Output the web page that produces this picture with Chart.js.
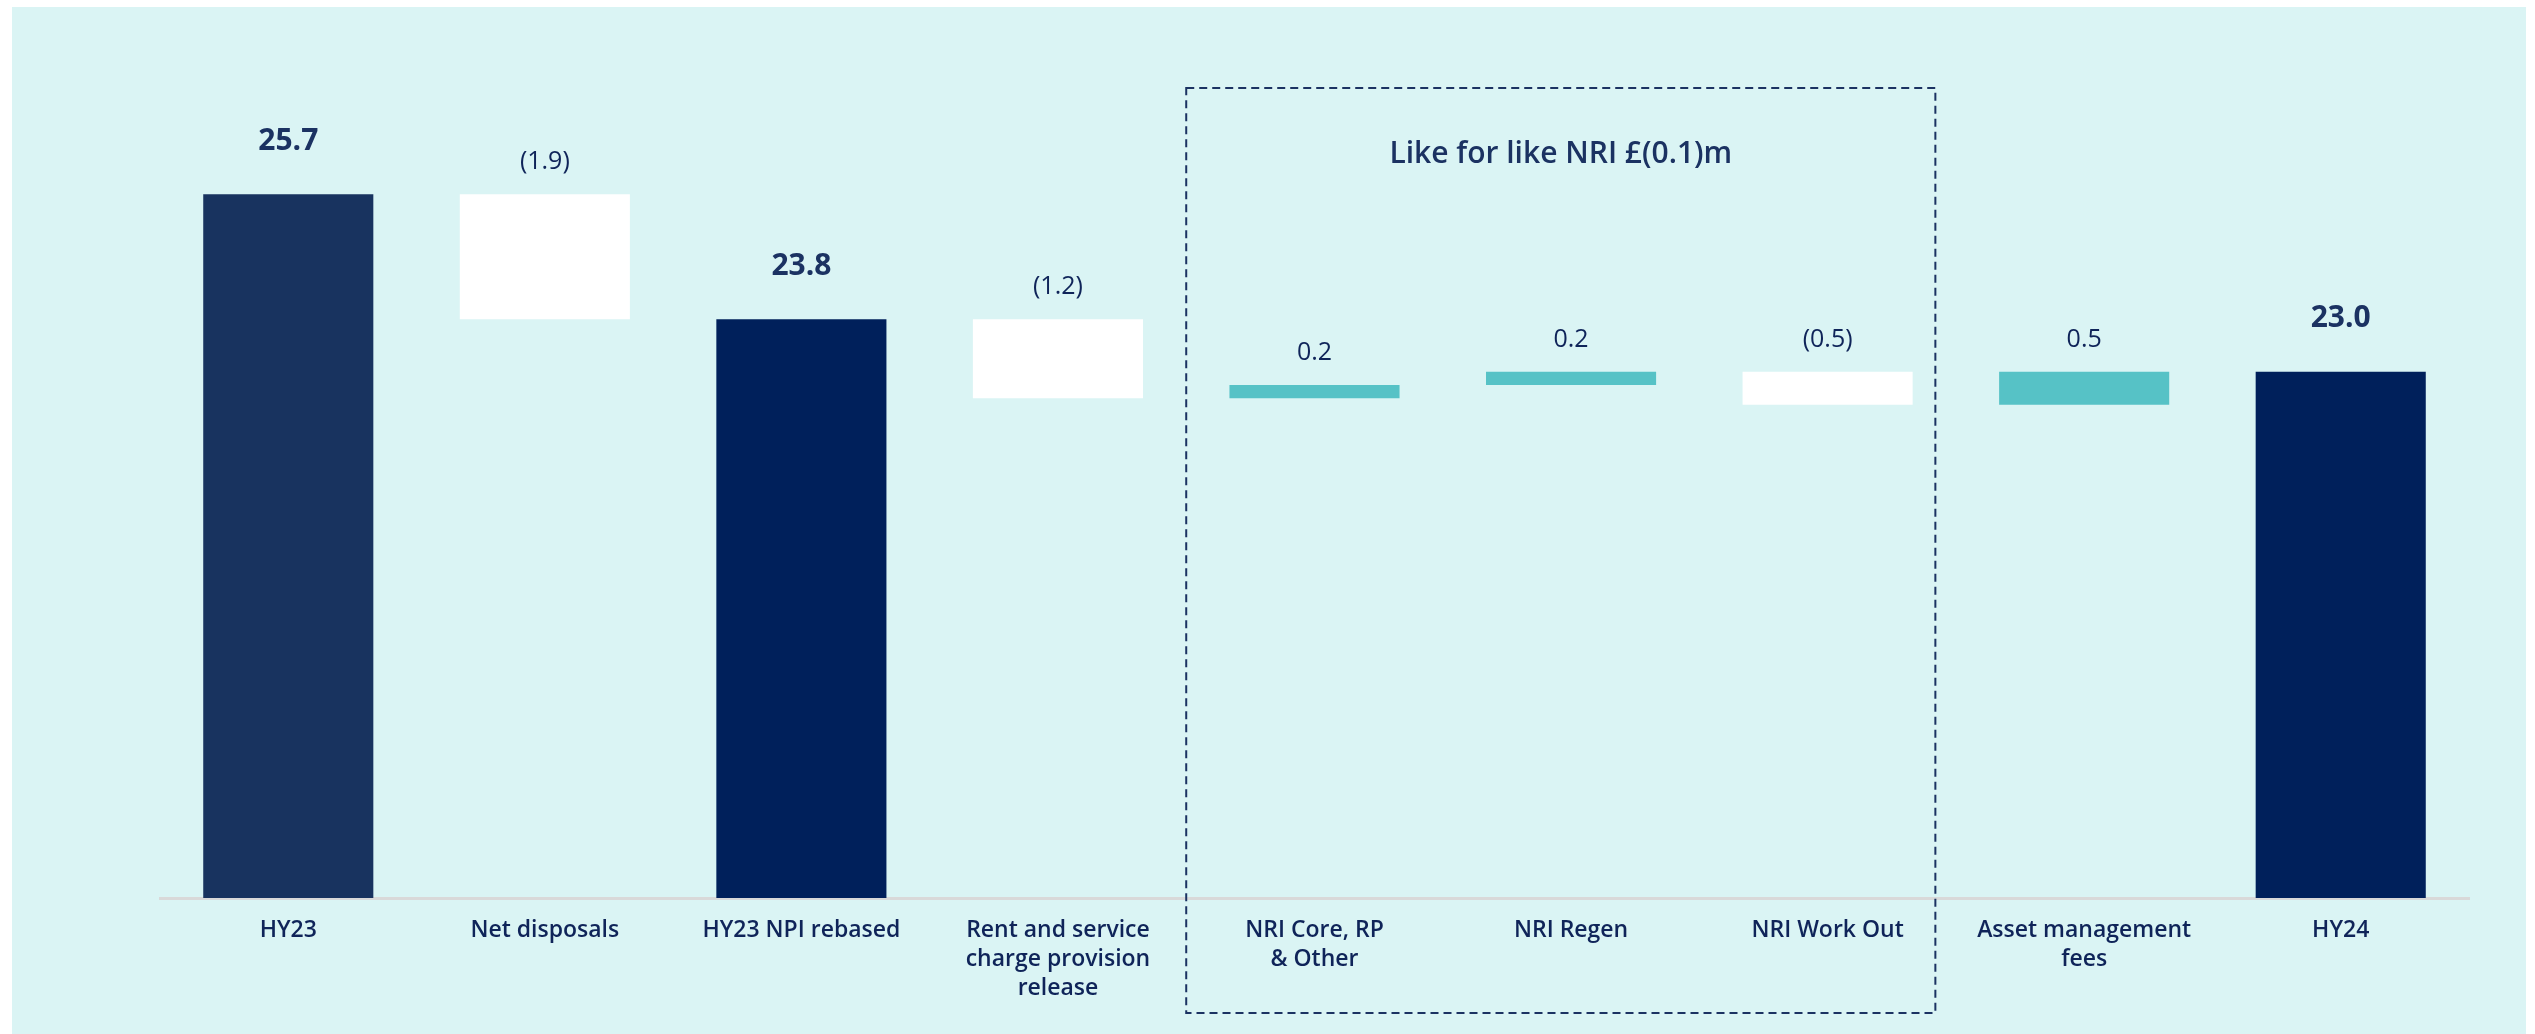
<!DOCTYPE html>
<html lang="en">
<head>
    <meta charset="UTF-8">
    <title>NRI bridge HY23 - HY24</title>
    <script src="https://cdn.jsdelivr.net/npm/chart.js@4.4.1/dist/chart.umd.min.js"></script>
    <style>
        html, body { margin: 0; padding: 0; background: #ffffff; overflow: hidden; }
        .panel { position: absolute; left: 12px; top: 7px; width: 2514px; height: 1027px; background: #daf4f4; }
        #bridge { position: absolute; left: 0; top: 0; }
    </style>
</head>
<body>
<div class="panel"></div>
<canvas id="bridge" width="2535" height="1034"></canvas>

<script>
    // categories and movements (£m)
    const categories = [
        'HY23', 'Net disposals', 'HY23 NPI rebased',
        ['Rent and service', 'charge provision', 'release'],
        ['NRI Core, RP', '& Other'], 'NRI Regen', 'NRI Work Out',
        ['Asset management', 'fees'], 'HY24'
    ];
    const movements = [25.7, -1.9, 23.8, -1.2, 0.2, 0.2, -0.5, 0.5, 23.0];
    const isTotal = [true, false, true, false, false, false, false, false, true];
    const boxTitle = 'Like for like NRI £(0.1)m';

    const barColours = ['#18335f', '#ffffff', '#00205b', '#ffffff', '#56c2c6', '#56c2c6', '#ffffff', '#56c2c6', '#00205b'];
    const textNavy = '#0f2459';
    const font = '"Open Sans"';

    // build floating bars from running total
    let running = 0;
    const ranges = movements.map((v, i) => {
        if (isTotal[i]) {
            running = v;
            return [15, v];
        }
        const start = running;
        running = +(running + v).toFixed(1);
        return [Math.min(start, running), Math.max(start, running)];
    });

    function fmt(v, i) {
        if (isTotal[i]) return v.toFixed(1);
        return v < 0 ? '(' + Math.abs(v).toFixed(1) + ')' : v.toFixed(1);
    }

    const labelsPlugin = {
        id: 'bridgeLabels',
        afterDatasetsDraw(chart) {
            const ctx = chart.ctx;
            const meta = chart.getDatasetMeta(0);
            ctx.save();
            ctx.textAlign = 'center';
            ctx.textBaseline = 'middle';
            meta.data.forEach((bar, i) => {
                const top = Math.min(bar.y, bar.base);
                if (isTotal[i]) {
                    ctx.font = 'bold 30px ' + font;
                    ctx.fillStyle = '#1b3262';
                    ctx.fillText(fmt(movements[i], i), bar.x, top - 53);
                } else {
                    ctx.font = '25px ' + font;
                    ctx.fillStyle = textNavy;
                    ctx.fillText(fmt(movements[i], i), bar.x, top - 32);
                }
            });

            // like for like dashed box round the three NRI bars
            const x = chart.scales.x;
            const left = x.getPixelForValue(3.5);
            const right = x.getPixelForValue(6.42);
            const top = 88;
            const bottom = 1013;
            ctx.setLineDash([8, 5]);
            ctx.lineWidth = 2;
            ctx.strokeStyle = '#1b3262';
            ctx.strokeRect(left, top, right - left, bottom - top);
            ctx.setLineDash([]);
            ctx.font = '600 30px ' + font;
            ctx.fillStyle = '#1b3262';
            ctx.fillText(boxTitle, (left + right) / 2, 154);
            ctx.restore();
        }
    };

    new Chart(document.getElementById('bridge'), {
        type: 'bar',
        data: {
            labels: categories,
            datasets: [{
                data: ranges,
                backgroundColor: barColours,
                borderWidth: 0,
                barPercentage: 0.663,
                categoryPercentage: 1
            }]
        },
        options: {
            responsive: false,
            animation: false,
            layout: { padding: { left: 160, right: 66, top: 43, bottom: 0 } },
            plugins: { legend: { display: false }, tooltip: { enabled: false } },
            scales: {
                x: {
                    grid: { display: false },
                    border: { display: true, color: '#d9d9d9', width: 3 },
                    ticks: {
                        color: textNavy,
                        padding: 10,
                        maxRotation: 0,
                        autoSkip: false,
                        font: { family: 'Open Sans', size: 23, weight: '600', lineHeight: 1.26 }
                    },
                    afterFit(scale) { scale.height = 136; }
                },
                y: { display: false, min: 15, max: 28 }
            }
        },
        plugins: [labelsPlugin]
    });
</script>
</body>
</html>
